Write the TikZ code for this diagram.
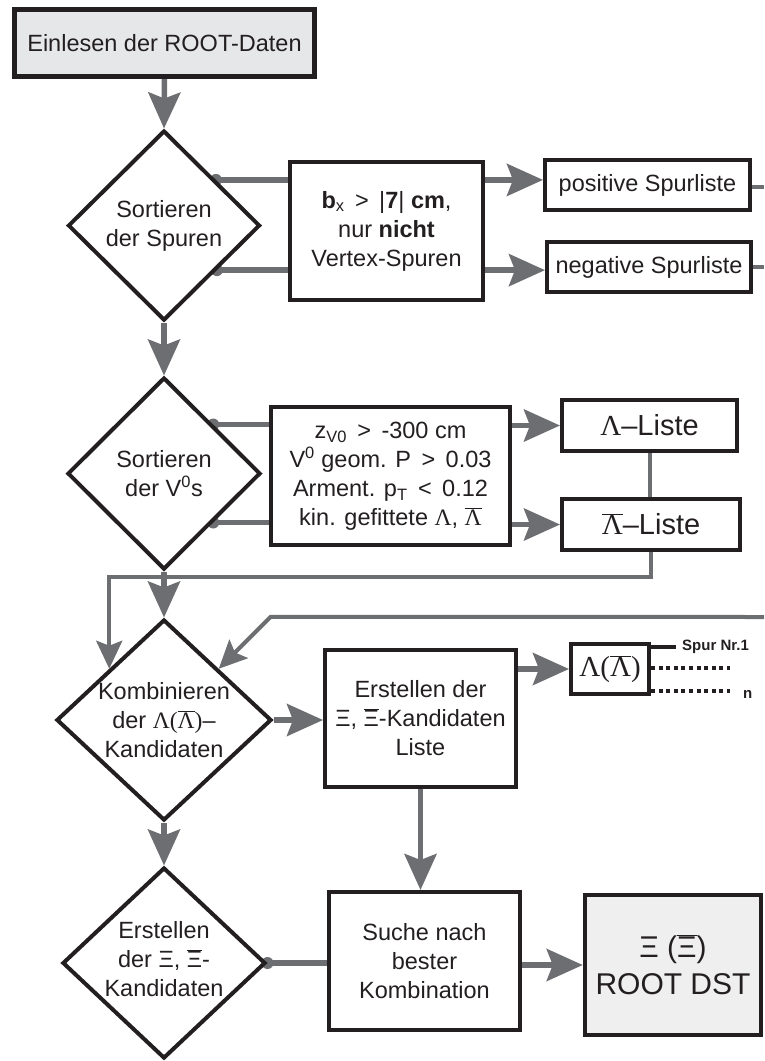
\documentclass[tikz,border=0pt]{standalone}
\usepackage{fontspec}
\setmainfont{Liberation Sans}
\newfontfamily\grserif{Liberation Serif}
\usetikzlibrary{shapes.geometric,arrows.meta,calc,backgrounds}
\definecolor{pfeilgrau}{HTML}{6D6E71}
\definecolor{rahmen}{HTML}{231F20}
\definecolor{hellgrau}{HTML}{E6E7E8}
\definecolor{hellgrauzwei}{HTML}{EFEFF0}
\newcommand{\xibar}{$\overline{\mbox{Ξ}}$}
\newcommand{\lam}{{\grserif Λ}}
\newcommand{\lbar}{$\overline{\mbox{\grserif Λ}}$}
\newcommand{\lamklammer}{{\grserif Λ(}\lbar{\grserif )}}

\begin{document}
\begin{tikzpicture}[x=1pt, y=-1pt,
    every node/.style={font=\fontsize{23.5}{29}\selectfont, text=rahmen},
    kasten/.style={draw=rahmen, line width=4pt, fill=white, align=center, inner sep=0pt},
    raute/.style 2 args={diamond, draw=rahmen, line width=4pt, fill=white, inner sep=0pt, minimum width=#1, minimum height=#2},
    rautetext/.style={align=center, inner sep=0pt},
    pfeil/.style={draw=pfeilgrau, line width=5.5pt, -{Stealth[length=36pt, width=32pt, inset=6pt]}},
    linie/.style={draw=pfeilgrau, line width=5.5pt},
    rueck/.style={draw=pfeilgrau, line width=4pt},
    rueckpfeil/.style={rueck, -{Stealth[length=28pt, width=26pt, inset=5pt]}},
    punkt/.style={fill=pfeilgrau},
    spurlinie/.style={draw=rahmen, line width=4pt},
    punktlinie/.style={spurlinie, dash pattern=on 4pt off 3.6pt},
    klein/.style={font=\fontsize{15}{18}\selectfont\bfseries, anchor=west, inner sep=0pt}
  ]
  \useasboundingbox (0,0) rectangle (764,1061);
  \coordinate (rand) at (764,0);

  \node[kasten, fill=hellgrau, line width=4.5pt, minimum width=300pt, minimum height=67pt] (einlesen) at (164.5,43) {Einlesen der ROOT-Daten};

  \node[raute={192pt}{190pt}] (sortspur) at (164,225.5) {};
  \node[rautetext] (sortspurtext) at (sortspur) {Sortieren\\der Spuren};
  \node[kasten, minimum width=193pt, minimum height=138pt] (cutspur) at (386.5,231) {\textbf{b}\textsubscript{x} \,>\, |\textbf{7}| \textbf{cm},\\nur \textbf{nicht}\\Vertex-Spuren};
  \node[kasten, minimum width=205pt, minimum height=50pt] (posliste) at (647.5,185) {positive Spurliste};
  \node[kasten, minimum width=204pt, minimum height=50pt] (negliste) at (649,267) {negative Spurliste};

  \node[raute={193pt}{192pt}] (sortvnull) at (164,473.5) {};
  \node[rautetext] (sortvnulltext) at (sortvnull) {Sortieren\\der V\textsuperscript{0}s};
  \node[kasten, minimum width=239pt, minimum height=138pt] (cutvnull) at (390.5,476) {z\textsubscript{V0} \,>\, -300 cm\\V\textsuperscript{0} geom. P \,>\, 0.03\\Arment. p\textsubscript{T} \,<\, 0.12\\kin. gefittete \lam, \lbar};
  \node[kasten, font=\fontsize{29}{34}\selectfont, minimum width=175pt, minimum height=51pt] (lamliste) at (649.5,425.5) {\lam--Liste};
  \node[kasten, font=\fontsize{29}{34}\selectfont, minimum width=178pt, minimum height=51pt] (alamliste) at (651,524.5) {\lbar--Liste};

  \node[raute={215pt}{201pt}] (kombi) at (164,720) {};
  \node[rautetext] (kombitext) at (kombi) {Kombinieren\\der \lamklammer--\\Kandidaten};
  \node[kasten, minimum width=191pt, minimum height=137pt] (xiliste) at (420.5,718.5) {Erstellen der\\Ξ, \xibar-Kandidaten\\Liste};
  \node[kasten, font=\fontsize{29}{34}\selectfont, minimum width=78pt, minimum height=50pt] (lamkand) at (610,669) {\lamklammer};
  \node[klein] (spurnr) at (682,647) {Spur Nr.1};
  \node[klein] (spurn) at (743,694) {n};
  \coordinate (spureins) at (730,668);
  \coordinate (spurende) at (730,691);

  \node[raute={203pt}{191pt}] (xierst) at (164,963) {};
  \node[rautetext] (xiersttext) at ($(xierst)+(0,-4)$) {Erstellen\\der Ξ, \xibar-\\Kandidaten};
  \node[kasten, minimum width=191pt, minimum height=138pt] (suche) at (424.5,961) {Suche nach\\bester\\Kombination};
  \node[kasten, fill=hellgrauzwei, line width=4.5pt, font=\fontsize{30}{37}\selectfont, minimum width=176pt, minimum height=140pt] (rootdst) at (673,965) {Ξ (\xibar)\\ROOT DST};

  \begin{scope}[on background layer]
    \draw[pfeil] (einlesen.south) -- (sortspur.north);
    \coordinate (spa) at ($(sortspur.north)!0.53!(sortspur.east)$);
    \coordinate (spb) at ($(sortspur.east)!0.46!(sortspur.south)$);
    \fill[punkt] (spa) circle[radius=6pt] (spb) circle[radius=6pt];
    \draw[linie] (spa) -- (spa -| cutspur.west);
    \draw[linie] (spb) -- (spb -| cutspur.west);
    \draw[pfeil] (cutspur.east |- spa) -- (posliste.west |- spa);
    \draw[pfeil] (cutspur.east |- spb) -- (negliste.west |- spb);
    \draw[rueck] ([yshift=-2pt]posliste.east) -- ([yshift=-2pt]posliste.east -| rand);
    \draw[rueck] (negliste.east) -- (negliste.east -| rand);

    \draw[pfeil] (sortspur.south) -- (sortvnull.north);
    \fill[punkt] (sortvnull.north east) circle[radius=6pt] (sortvnull.south east) circle[radius=6pt];
    \draw[linie] (sortvnull.north east) -- (sortvnull.north east -| cutvnull.west);
    \draw[linie] (sortvnull.south east) -- (sortvnull.south east -| cutvnull.west);
    \draw[pfeil] (cutvnull.east |- lamliste) -- (lamliste.west);
    \draw[pfeil] (cutvnull.east |- alamliste) -- (alamliste.west);
    \draw[rueck] (lamliste.south) -- (lamliste.south |- alamliste.north);
    \draw[rueckpfeil] (alamliste.south) -- ++(0,25) -| (kombi.north west);

    \coordinate (rueckstart) at (764,617);
    \draw[pfeil] (sortvnull.south) -- (kombi.north);
    \draw[rueckpfeil] (rueckstart) -- ($(kombi.north east)+(52,-52)$) -- (kombi.north east);
    \draw[pfeil] (kombi.east) -- (kombi.east -| xiliste.west);
    \draw[pfeil] (xiliste.east |- lamkand) -- (lamkand.west);
    \draw[spurlinie] (lamkand.east |- spurnr) -- ([xshift=-6pt]spurnr.west);
    \draw[punktlinie] (lamkand.east |- spureins) -- (spureins);
    \draw[punktlinie] (lamkand.east |- spurende) -- (spurende);

    \draw[pfeil] (kombi.south) -- (xierst.north);
    \draw[pfeil] (xiliste.south) -- (xiliste.south |- suche.north);
    \fill[punkt] (xierst.east) circle[radius=6pt];
    \draw[linie] (xierst.east) -- (xierst.east -| suche.west);
    \draw[pfeil] (suche.east |- rootdst) -- (rootdst.west);
  \end{scope}
\end{tikzpicture}
\end{document}
